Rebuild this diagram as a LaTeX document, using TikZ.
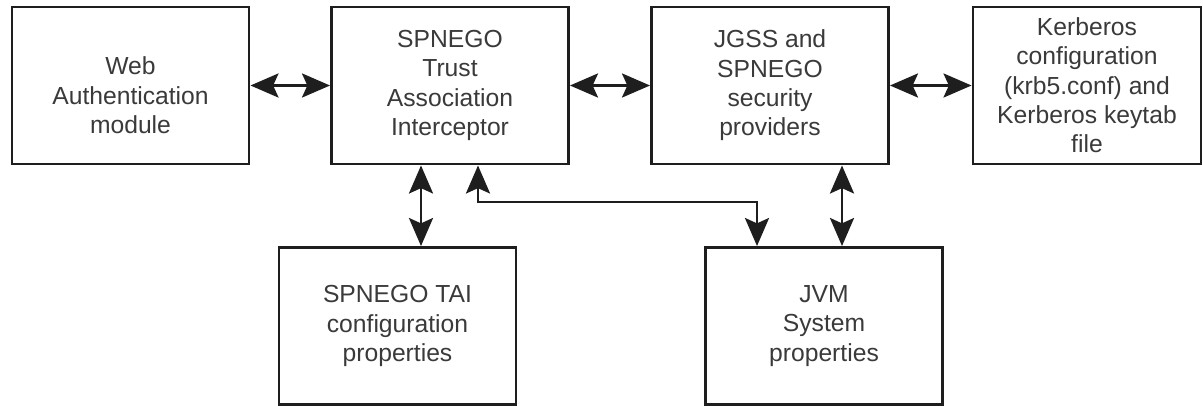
\documentclass[tikz,border=0pt]{standalone}
\usepackage{fontspec}
\setmainfont{Liberation Sans}
\usepackage{xcolor}
\usepackage{tikz}
\usetikzlibrary{arrows.meta, positioning}
\definecolor{spline}{HTML}{1E1E1E}
\definecolor{sptext}{HTML}{3A3A3A}

\begin{document}
\begin{tikzpicture}[x=0.75pt, y=-0.75pt,
    every node/.style={font=\fontsize{18.5}{22}\selectfont, text=sptext},
    box/.style={draw=spline, line width=2.2pt, fill=white, align=center,
      minimum width=177.75pt, minimum height=117.75pt, inner sep=2pt},
    link/.style={draw=spline, line width=2.2pt,
      {Stealth[length=21pt, width=18pt, inset=4pt]}-{Stealth[length=21pt, width=18pt, inset=4pt]}}]
  \useasboundingbox (0,0) rectangle (1203,406);
  % top row
  \node[box] (web) at (130.5,85.5) {\rule{0pt}{28pt}Web\\Authentication\\module};
  \node[box] (tai) at (450,85.5) {SPNEGO\\Trust\\Association\\Interceptor};
  \node[box] (jgss) at (770,85.5) {JGSS and\\SPNEGO\\security\\providers};
  \node[box, minimum width=171pt] (krb) at (1087,85.5) {Kerberos\\configuration\\(krb5.conf) and\\Kerberos keytab\\file};
  % bottom row
  \node[box] (taicfg) at (397.5,326) {SPNEGO TAI\\configuration\\properties};
  \node[box] (jvm) at (824,326) {JVM\\System\\properties};
  % drop points for the vertical links
  \coordinate (leftdrop) at (421,200);
  \coordinate (elbowA) at (478,202);
  \coordinate (elbowB) at (757,202);
  \coordinate (rightdrop) at (842,200);
  % links
  \draw[link] (web.east) -- (tai.west);
  \draw[link] (tai.east) -- (jgss.west);
  \draw[link] (jgss.east) -- (krb.west);
  \draw[link] (tai.south -| leftdrop) -- (taicfg.north -| leftdrop);
  \draw[link] (tai.south -| elbowA) -- (elbowA) -- (elbowB) -- (jvm.north -| elbowB);
  \draw[link] (jgss.south -| rightdrop) -- (jvm.north -| rightdrop);
\end{tikzpicture}
\end{document}
